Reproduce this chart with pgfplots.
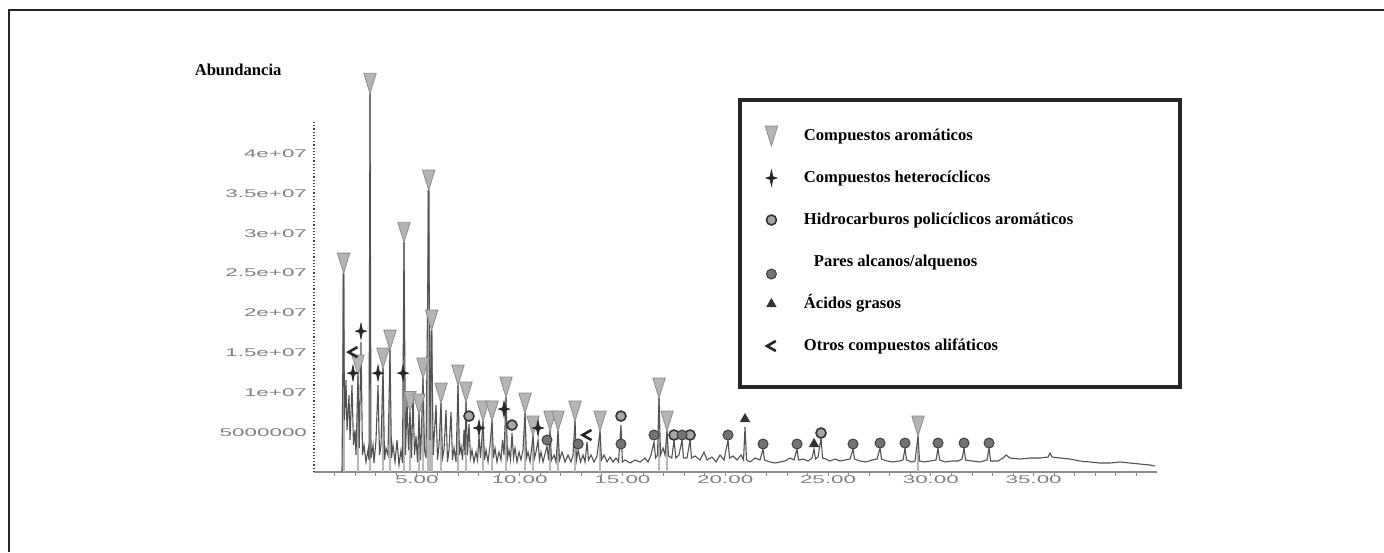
\documentclass[border=0pt]{standalone}
\usepackage{fontspec}
\setmainfont{Liberation Serif}
\newfontfamily\tickfont[FakeStretch=2.0]{Liberation Sans}
\usepackage{pgfplots}
\pgfplotsset{compat=1.18}
\definecolor{trifill}{HTML}{B4B4B4}
\definecolor{triedge}{HTML}{8C8C8C}
\pgfdeclareplotmark{dtri}{%
  \pgfpathmoveto{\pgfqpoint{-3.1pt}{5pt}}%
  \pgfpathlineto{\pgfqpoint{3.1pt}{5pt}}%
  \pgfpathlineto{\pgfqpoint{0pt}{-5pt}}%
  \pgfpathclose
  \pgfusepathqfillstroke}
\pgfdeclareplotmark{fourstar}{%
  \pgfpathmoveto{\pgfqpoint{0pt}{4pt}}%
  \pgfpathlineto{\pgfqpoint{0.7pt}{0.7pt}}%
  \pgfpathlineto{\pgfqpoint{2.8pt}{0pt}}%
  \pgfpathlineto{\pgfqpoint{0.7pt}{-0.7pt}}%
  \pgfpathlineto{\pgfqpoint{0pt}{-4pt}}%
  \pgfpathlineto{\pgfqpoint{-0.7pt}{-0.7pt}}%
  \pgfpathlineto{\pgfqpoint{-2.8pt}{0pt}}%
  \pgfpathlineto{\pgfqpoint{-0.7pt}{0.7pt}}%
  \pgfpathclose
  \pgfusepathqfillstroke}
\pgfdeclareplotmark{lessmark}{%
  \pgfpathmoveto{\pgfqpoint{2.2pt}{2.5pt}}%
  \pgfpathlineto{\pgfqpoint{-2.2pt}{0pt}}%
  \pgfpathlineto{\pgfqpoint{2.2pt}{-2.5pt}}%
  \pgfusepathqstroke}
\pgfplotsset{
  stdlegimg/.style={legend image code/.code={\path (0cm,0cm) (0.6cm,0cm);
    \draw[mark repeat=2,mark phase=2,##1] plot coordinates {(0cm,0cm)(0.3cm,0cm)(0.6cm,0cm)};}},
  pareslegimg/.style={legend image code/.code={\path (0cm,0cm) (0.6cm,0cm);
    \draw[mark repeat=2,mark phase=2,##1] plot coordinates {(0cm,-6pt)(0.3cm,-6pt)(0.6cm,-6pt)};}},
}
\begin{document}
\begin{tikzpicture}
\useasboundingbox (0,0) rectangle (692pt,276pt);
\draw[line width=1pt, black!85] (4.5pt,0pt) -- (4.5pt,271pt) -- (692pt,271pt);
\begin{axis}[
  at={(157pt,40pt)}, anchor=south west,
  scale only axis, width=421.5pt, height=175pt,
  xmin=0, xmax=41, ymin=0, ymax=4.4e7,
  clip=false,
  axis x line*=bottom, axis y line*=left,
  x axis line style={black!45, line width=0.9pt},
  y axis line style={black!75, densely dotted, line width=0.6pt},
  xtick={5,10,15,20,25,30,35},
  xticklabels={5.00,10.00,15.00,20.00,25.00,30.00,35.00},
  minor xtick={1,2,...,40},
  ytick={5e6,1e7,1.5e7,2e7,2.5e7,3e7,3.5e7,4e7},
  yticklabels={5000000,1e+07,1.5e+07,2e+07,2.5e+07,3e+07,3.5e+07,4e+07},
  scaled y ticks=false,
  tick align=outside,
  major tick length=2pt, minor tick length=2pt,
  xtick style={black!45, line width=0.4pt},
  every minor tick/.append style={black!45, line width=0.4pt},
  ytick style={draw=none},
  ticklabel style={font=\tickfont\fontsize{5.6}{6}\selectfont, text=black!50},
  xticklabel style={yshift=3.5pt},
  yticklabel style={xshift=2pt},
  ylabel={Abundancia},
  every axis y label/.style={at={(rel axis cs:-0.09,1.149)}, anchor=center, font=\bfseries\fontsize{8.3}{10}\selectfont},
  legend style={draw=none, fill=none, at={(rel axis cs:0.5219,1.02)}, anchor=north west,
    inner sep=0pt, outer sep=0pt, row sep=0pt, column sep=7.5pt,
    font=\bfseries\fontsize{8.3}{10}\selectfont,
    cells={anchor=west},
    nodes={inner sep=0pt, text height=6pt, text depth=2pt, minimum height=21pt}},
  stdlegimg,
]
% stems of the aromatic peaks
\addplot[ycomb, no marks, black!28, line width=1.4pt, forget plot] table {
1.44 25.0e6
2.140 12.18e6
2.724 47.6e6
3.356 13.06e6
3.696 15.32e6
4.377 28.9e6
4.669 7.6e6
5.107 7.28e6
5.302 11.81e6
5.580 35.4e6
5.72 17.84e6
6.177 8.67e6
7.004 10.93e6
7.393 8.79e6
8.220 6.41e6
8.658 6.41e6
9.338 9.42e6
10.263 7.41e6
10.652 4.52e6
11.479 5.15e6
11.868 5.15e6
12.694 6.41e6
13.911 5.15e6
16.780 9.29e6
17.169 5.15e6
29.377 4.52e6
};
% chromatogram
\addplot[black!68, line width=0.55pt, no marks, forget plot] table {
1.362 0
1.44 25.0e6
1.483 6.53e6
1.556 11.56e6
1.605 5.28e6
1.702 9.67e6
1.751 4.02e6
1.848 10.93e6
1.921 3.39e6
1.994 5.28e6
2.043 2.14e6
2.140 12.18e6
2.200 3.0e6
2.286 16.33e6
2.359 2.14e6
2.432 3.39e6
2.529 1.26e6
2.626 2.76e6
2.675 1.51e6
2.724 47.6e6
2.772 1.76e6
2.870 3.39e6
2.918 1.13e6
3.016 4.02e6
3.113 10.93e6
3.186 2.14e6
3.259 3.39e6
3.356 13.06e6
3.429 1.51e6
3.502 3.01e6
3.599 2.14e6
3.696 15.32e6
3.769 1.76e6
3.842 3.39e6
3.940 1.26e6
4.037 4.02e6
4.134 0.88e6
4.232 2.76e6
4.304 1.13e6
4.377 28.9e6
4.450 2.14e6
4.523 9.04e6
4.596 2.76e6
4.669 7.6e6
4.742 1.76e6
4.815 9.67e6
4.888 2.14e6
4.961 4.5e6
5.034 1.26e6
5.107 7.28e6
5.180 1.51e6
5.302 11.81e6
5.375 2.76e6
5.447 1.76e6
5.580 35.4e6
5.640 4.02e6
5.72 17.84e6
5.80 2.14e6
5.837 4.02e6
5.934 8.42e6
6.007 1.51e6
6.080 3.39e6
6.177 8.67e6
6.250 1.76e6
6.323 2.76e6
6.420 7.79e6
6.493 1.26e6
6.566 2.76e6
6.663 7.54e6
6.736 1.51e6
6.809 3.01e6
6.907 1.26e6
7.004 10.93e6
7.077 2.14e6
7.150 3.27e6
7.223 1.51e6
7.296 5.28e6
7.344 2.14e6
7.393 8.79e6
7.466 2.14e6
7.539 6.03e6
7.612 1.76e6
7.685 2.76e6
7.782 1.26e6
7.879 2.51e6
7.952 1.51e6
8.025 4.52e6
8.098 1.76e6
8.220 6.41e6
8.293 1.51e6
8.366 2.76e6
8.463 1.26e6
8.560 3.39e6
8.658 6.41e6
8.731 1.76e6
8.803 3.01e6
8.901 1.26e6
8.998 2.51e6
9.095 1.51e6
9.168 4.02e6
9.241 2.14e6
9.338 9.42e6
9.411 1.76e6
9.484 2.76e6
9.557 1.51e6
9.630 4.90e6
9.703 1.76e6
9.776 3.01e6
9.874 1.26e6
9.971 2.51e6
10.068 1.51e6
10.165 2.76e6
10.263 7.41e6
10.336 1.76e6
10.409 2.51e6
10.506 1.26e6
10.652 4.52e6
10.725 1.76e6
10.798 2.51e6
10.895 4.02e6
10.968 1.51e6
11.041 2.51e6
11.138 1.26e6
11.333 3.27e6
11.41 1.51e6
11.479 5.15e6
11.552 1.51e6
11.673 2.14e6
11.770 1.26e6
11.868 5.15e6
11.941 1.51e6
12.062 2.51e6
12.208 1.26e6
12.354 2.14e6
12.500 1.26e6
12.597 2.14e6
12.694 6.41e6
12.767 1.51e6
12.850 2.76e6
12.962 1.26e6
13.084 2.14e6
13.181 1.26e6
13.278 3.77e6
13.351 1.51e6
13.473 2.14e6
13.619 1.26e6
13.765 2.01e6
13.911 5.15e6
13.983 1.51e6
14.105 2.14e6
14.251 1.26e6
14.397 1.88e6
14.543 1.26e6
14.689 1.76e6
14.810 1.26e6
14.93 5.90e6
15.00 1.26e6
15.126 1.51e6
15.370 1.13e6
15.613 1.51e6
15.856 1.26e6
16.099 1.76e6
16.245 1.26e6
16.391 2.14e6
16.537 3.77e6
16.610 1.76e6
16.707 2.14e6
16.780 9.29e6
16.853 2.14e6
16.975 3.01e6
17.072 2.14e6
17.169 5.15e6
17.242 2.01e6
17.40 1.76e6
17.51 4.02e6
17.60 1.76e6
17.75 2.14e6
17.90 4.02e6
17.97 1.76e6
18.14 1.76e6
18.29 4.02e6
18.36 1.76e6
18.531 2.01e6
18.774 1.51e6
18.969 2.51e6
19.115 1.51e6
19.358 1.88e6
19.553 1.26e6
19.747 2.14e6
19.942 1.51e6
20.136 4.02e6
20.209 1.76e6
20.379 2.01e6
20.574 1.51e6
20.768 2.14e6
20.890 1.51e6
20.963 5.65e6
21.036 1.51e6
21.206 1.26e6
21.449 1.76e6
21.693 1.51e6
21.838 2.89e6
21.911 1.51e6
22.179 1.26e6
22.422 1.13e6
22.665 1.26e6
22.909 1.38e6
23.152 1.76e6
23.346 1.51e6
23.492 2.89e6
23.565 1.51e6
23.784 1.63e6
24.027 1.38e6
24.222 1.76e6
24.319 2.89e6
24.392 1.63e6
24.514 1.88e6
24.659 4.27e6
24.732 1.76e6
24.903 1.63e6
25.097 1.38e6
25.340 1.63e6
25.584 1.38e6
25.827 1.51e6
26.070 1.63e6
26.216 2.89e6
26.289 1.63e6
26.556 1.38e6
26.848 1.26e6
27.140 1.51e6
27.383 1.63e6
27.529 3.01e6
27.602 1.63e6
27.870 1.38e6
28.161 1.26e6
28.453 1.38e6
28.648 1.51e6
28.745 3.01e6
28.818 1.51e6
29.085 1.26e6
29.231 1.38e6
29.377 4.52e6
29.450 1.38e6
29.669 1.26e6
29.961 1.38e6
30.253 1.51e6
30.350 3.01e6
30.423 1.51e6
30.691 1.26e6
31.031 1.38e6
31.323 1.38e6
31.517 1.63e6
31.615 3.01e6
31.688 1.51e6
32.004 1.38e6
32.393 1.26e6
32.733 1.51e6
32.831 3.01e6
32.904 1.38e6
33.268 1.38e6
33.512 1.76e6
33.657 2.14e6
33.852 1.76e6
34.338 1.63e6
34.825 1.76e6
35.311 1.76e6
35.700 1.88e6
35.798 2.39e6
35.895 1.88e6
36.284 1.76e6
36.770 1.63e6
37.257 1.38e6
37.743 1.26e6
38.229 1.13e6
38.716 1.13e6
39.202 1.26e6
39.689 1.13e6
40.175 1.00e6
40.661 0.88e6
40.904 0.75e6
};
% Compuestos aromaticos
\addplot[only marks, mark=dtri, mark options={fill=trifill, draw=triedge, line width=0.4pt}] table {
1.44 26.26e6
2.140 13.44e6
2.724 48.86e6
3.356 14.32e6
3.696 16.58e6
4.377 30.14e6
4.669 8.86e6
5.107 8.54e6
5.302 13.07e6
5.580 36.7e6
5.72 19.1e6
6.177 9.93e6
7.004 12.19e6
7.393 10.05e6
8.220 7.67e6
8.658 7.67e6
9.338 10.68e6
10.263 8.67e6
10.652 5.78e6
11.479 6.41e6
11.868 6.41e6
12.694 7.67e6
13.911 6.41e6
16.780 10.55e6
17.169 6.41e6
29.377 5.78e6
};
\addlegendentry{Compuestos aromáticos}
% Compuestos heterociclicos
\addplot[only marks, mark=fourstar, mark options={fill=black!85, draw=black!85, line width=0.3pt}] table {
1.897 12.43e6
2.286 17.71e6
3.113 12.43e6
4.329 12.43e6
8.025 5.53e6
9.241 7.91e6
10.895 5.53e6
};
\addlegendentry{Compuestos heterocíclicos}
% HAP
\addplot[only marks, mark=*, mark size=2.5pt, mark options={fill=black!35, draw=black!80, line width=0.8pt}] table {
7.539 7.03e6
9.630 5.90e6
14.93 7.03e6
17.51 4.65e6
18.29 4.65e6
24.659 4.90e6
};
\addlegendentry{Hidrocarburos policíclicos aromáticos}
% alcanos/alquenos
\addplot[only marks, mark=*, mark size=2.5pt, mark options={fill=black!55, draw=black!75, line width=0.5pt}, pareslegimg] table {
11.333 4.02e6
12.850 3.52e6
14.93 3.52e6
16.537 4.65e6
17.90 4.65e6
20.136 4.65e6
21.838 3.52e6
23.492 3.52e6
26.216 3.52e6
27.529 3.64e6
28.745 3.64e6
30.350 3.64e6
31.615 3.64e6
32.831 3.64e6
};
\addlegendentry{\hspace{5pt}Pares alcanos/alquenos}
% acidos grasos
\addplot[only marks, mark=triangle*, mark size=2.6pt, mark options={fill=black!80, draw=black!80}] table {
20.963 6.66e6
24.319 3.52e6
};
\addlegendentry{Ácidos grasos}
% otros
\addplot[only marks, mark=lessmark, mark options={draw=black!85, line width=1.3pt}] table {
1.897 15.07e6
13.278 4.65e6
};
\addlegendentry{Otros compuestos alifáticos}
\draw[line width=1.8pt, black!85] (rel axis cs:0.5053,0.2429) rectangle (rel axis cs:1.0273,1.0629);
\end{axis}
\end{tikzpicture}
\end{document}
